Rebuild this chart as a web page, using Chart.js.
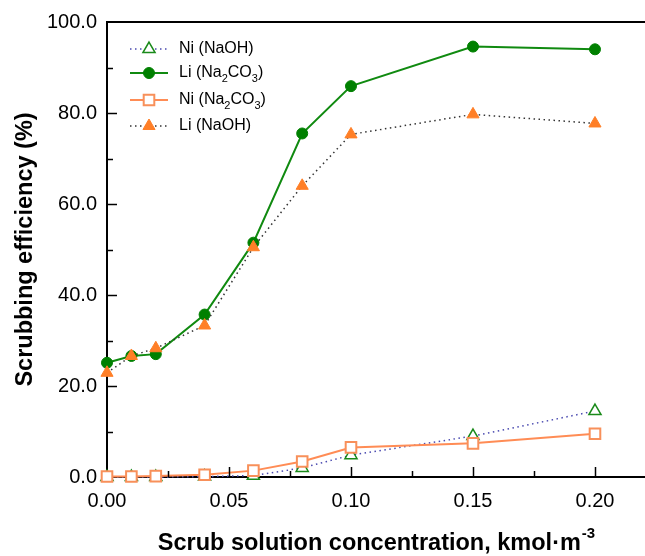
<!DOCTYPE html>
<html>
<head>
<meta charset="utf-8">
<script src="https://cdn.jsdelivr.net/npm/chart.js@4"></script>
<style>
  html, body { margin: 0; padding: 0; background: #fff; }
  canvas { display: block; }
</style>
</head>
<body>
<canvas id="scrubChart" width="645" height="556"></canvas>
<script>
// scrub solution concentration, kmol/m3
const conc = [0, 0.01, 0.02, 0.04, 0.06, 0.08, 0.10, 0.15, 0.20];

// scrubbing efficiency (%)
const niNaOH   = [0, 0, 0, 0.1, 0.3, 2.0, 4.8, 9.0, 14.5];
const liNa2CO3 = [25.1, 26.6, 27.0, 35.7, 51.5, 75.5, 85.9, 94.6, 94.0];
const niNa2CO3 = [0.1, 0.1, 0.2, 0.5, 1.4, 3.4, 6.5, 7.4, 9.5];
const liNaOH   = [22.9, 26.6, 28.3, 33.3, 50.5, 64.0, 75.3, 79.7, 77.7];

const yTicks = [0, 20, 40, 60, 80, 100];
const xTicks = [0, 0.05, 0.10, 0.15, 0.20];

const FONT = "'Liberation Sans', Arial, sans-serif";

function pts(ys) {
  return conc.map((x, i) => ({x: x, y: ys[i]}));
}

// legend rows, text split so the 2 and 3 can be drawn as subscripts
const legendRows = [
  {ds: 'Ni (NaOH)', parts: [['Ni (NaOH)', false]]},
  {ds: 'Li (Na2CO3)', parts: [['Li (Na', false], ['2', true], ['CO', false], ['3', true], [')', false]]},
  {ds: 'Ni (Na2CO3)', parts: [['Ni (Na', false], ['2', true], ['CO', false], ['3', true], [')', false]]},
  {ds: 'Li (NaOH)', parts: [['Li (NaOH)', false]]}
];
const legendY = [49, 73, 100, 126];

const framePlugin = {
  id: 'framePlugin',
  afterDraw(chart) {
    const {ctx, chartArea: ca, scales: {x, y}} = chart;
    ctx.save();
    ctx.strokeStyle = '#000';

    // top frame line
    ctx.lineWidth = 2;
    ctx.beginPath();
    ctx.moveTo(ca.left, ca.top);
    ctx.lineTo(ca.right, ca.top);
    ctx.stroke();

    // inward ticks (major + minor)
    ctx.lineWidth = 1.5;
    for (let v = 0.025; v < x.max; v += 0.025) {
      const px = Math.round(x.getPixelForValue(v)) + 0.5;
      const major = Math.abs(v / 0.05 - Math.round(v / 0.05)) < 1e-6;
      ctx.beginPath();
      ctx.moveTo(px, ca.bottom);
      ctx.lineTo(px, ca.bottom - (major ? 10 : 6));
      ctx.stroke();
    }
    for (let v = 10; v < 100; v += 10) {
      const py = Math.round(y.getPixelForValue(v)) + 0.5;
      const major = v % 20 === 0;
      ctx.beginPath();
      ctx.moveTo(ca.left, py);
      ctx.lineTo(ca.left + (major ? 10 : 6), py);
      ctx.stroke();
    }

    // axis titles
    ctx.fillStyle = '#000';
    ctx.textBaseline = 'alphabetic';
    const xt = 'Scrub solution concentration, kmol\u00B7m';
    ctx.font = 'bold 23.5px ' + FONT;
    const wMain = ctx.measureText(xt).width;
    ctx.font = 'bold 15px ' + FONT;
    const wSup = ctx.measureText('-3').width;
    const startX = (ca.left + ca.right) / 2 - (wMain + wSup) / 2;
    ctx.font = 'bold 23.5px ' + FONT;
    ctx.textAlign = 'left';
    ctx.fillText(xt, startX, 550);
    ctx.font = 'bold 15px ' + FONT;
    ctx.fillText('-3', startX + wMain + 1, 538);

    ctx.save();
    ctx.translate(32, (ca.top + ca.bottom) / 2);
    ctx.rotate(-Math.PI / 2);
    ctx.font = 'bold 23.5px ' + FONT;
    ctx.textAlign = 'center';
    ctx.fillText('Scrubbing efficiency (%)', 0, 0);
    ctx.restore();

    // legend
    legendRows.forEach((row, i) => {
      const ds = chart.data.datasets.find(d => d.label === row.ds);
      const cy = legendY[i];
      ctx.save();
      ctx.strokeStyle = ds.borderColor;
      ctx.lineWidth = ds.borderWidth;
      ctx.setLineDash(ds.borderDash || []);
      ctx.beginPath();
      ctx.moveTo(130, cy);
      ctx.lineTo(168, cy);
      ctx.stroke();
      ctx.restore();
      ctx.save();
      ctx.fillStyle = ds.pointBackgroundColor;
      ctx.strokeStyle = ds.pointBorderColor;
      ctx.lineWidth = ds.pointBorderWidth;
      Chart.helpers.drawPoint(ctx, {pointStyle: ds.pointStyle, radius: ds.pointRadius, rotation: 0, borderWidth: ds.pointBorderWidth}, 149, cy);
      ctx.restore();

      let tx = 179;
      ctx.fillStyle = '#000';
      ctx.textAlign = 'left';
      ctx.textBaseline = 'middle';
      row.parts.forEach(([t, sub]) => {
        ctx.font = (sub ? '11px ' : '16px ') + FONT;
        ctx.fillText(t, tx, sub ? cy + 6 : cy);
        tx += ctx.measureText(t).width;
      });
    });
    ctx.restore();
  }
};

const datasets = [
  {
    label: 'Li (NaOH)',
    data: pts(liNaOH),
    borderColor: '#333333',
    borderWidth: 1.5,
    borderDash: [1.5, 3.5],
    pointStyle: 'triangle',
    pointRadius: 7,
    pointBackgroundColor: '#ff7f27',
    pointBorderColor: '#ff7f27',
    pointBorderWidth: 1
  },
  {
    label: 'Li (Na2CO3)',
    data: pts(liNa2CO3),
    borderColor: '#108a10',
    borderWidth: 2,
    pointStyle: 'circle',
    pointRadius: 5.5,
    pointBackgroundColor: '#008000',
    pointBorderColor: '#008000',
    pointBorderWidth: 1
  },
  {
    label: 'Ni (Na2CO3)',
    data: pts(niNa2CO3),
    borderColor: '#ff8c55',
    borderWidth: 2,
    pointStyle: 'rect',
    pointRadius: 7.5,
    pointBackgroundColor: '#ffffff',
    pointBorderColor: '#f8905a',
    pointBorderWidth: 2
  },
  {
    label: 'Ni (NaOH)',
    data: pts(niNaOH),
    borderColor: '#4a4ab0',
    borderWidth: 1.5,
    borderDash: [1.5, 3.5],
    pointStyle: 'triangle',
    pointRadius: 7,
    pointBackgroundColor: '#ffffff',
    pointBorderColor: '#1a8a1a',
    pointBorderWidth: 1.5
  }
];
datasets.forEach(d => { d.clip = false; d.tension = 0; d.fill = false; });

new Chart(document.getElementById('scrubChart'), {
  type: 'line',
  data: {datasets: datasets},
  plugins: [framePlugin],
  options: {
    responsive: false,
    animation: false,
    layout: {autoPadding: false, padding: {top: 22, right: 0, left: 0, bottom: 0}},
    plugins: {legend: {display: false}, tooltip: {enabled: false}},
    scales: {
      x: {
        type: 'linear',
        min: 0,
        max: 0.2205,
        afterFit: s => { s.height = 79; },
        afterBuildTicks: s => { s.ticks = xTicks.map(v => ({value: v})); },
        grid: {display: false, drawTicks: false},
        border: {display: true, color: '#000', width: 2},
        ticks: {
          padding: 12,
          color: '#000',
          font: {family: FONT, size: 20},
          callback: v => Number(v).toFixed(2)
        }
      },
      y: {
        min: 0,
        max: 100,
        afterFit: s => { s.width = 107; },
        afterBuildTicks: s => { s.ticks = yTicks.map(v => ({value: v})); },
        grid: {display: false, drawTicks: false},
        border: {display: true, color: '#000', width: 2},
        ticks: {
          padding: 10,
          color: '#000',
          font: {family: FONT, size: 20},
          callback: v => Number(v).toFixed(1)
        }
      }
    }
  }
});
</script>
</body>
</html>
